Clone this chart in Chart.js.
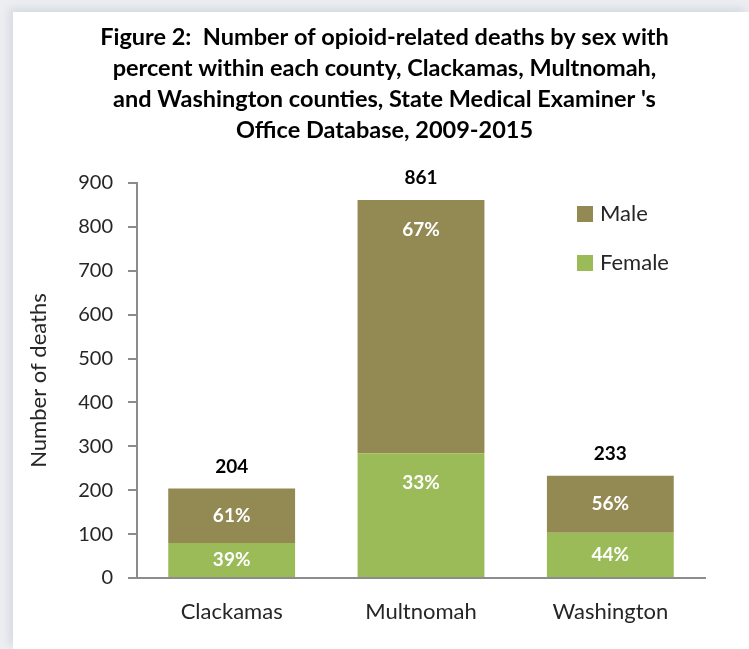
<!DOCTYPE html>
<html>
<head>
<meta charset="utf-8">
<script src="https://cdn.jsdelivr.net/npm/chart.js@4.4.0/dist/chart.umd.min.js"></script>
<style>
  html, body { margin: 0; padding: 0; }
  body { width: 749px; height: 649px; overflow: hidden; position: relative; background: #eceef2; }
  #panel { position: absolute; left: 13px; top: 12px; right: 0; bottom: 0; background: #fff;
           box-shadow: -4px -4px 8px rgba(205, 210, 218, 0.7); }
  #wrap { position: absolute; left: 0; top: 0; width: 749px; height: 649px; }
</style>
</head>
<body>
<div id="panel"></div>
<div id="wrap"><canvas id="chart"></canvas></div>
<script>
// data
const counties = ['Clackamas', 'Multnomah', 'Washington'];
const femaleDeaths = [80, 284, 103];
const maleDeaths = [124, 577, 130];
const yMin = 0, yMax = 900, yStep = 100;
const titleLines = [
  'Figure 2:  Number of opioid-related deaths by sex with',
  'percent within each county, Clackamas, Multnomah,',
  "and Washington counties, State Medical Examiner 's",
  'Office Database, 2009-2015'
];

const FONT = 'Lato';
const textColor = '#262626';
const axisColor = '#8c8c8c';

const totals = counties.map((c, i) => femaleDeaths[i] + maleDeaths[i]);

// percent inside each segment + total above each bar
const barLabels = {
  id: 'barLabels',
  afterDatasetsDraw(chart) {
    const ctx = chart.ctx;
    ctx.save();
    ctx.textAlign = 'center';
    ctx.textBaseline = 'middle';
    ctx.font = 'bold 19px ' + FONT;
    chart.data.datasets.forEach((ds, di) => {
      chart.getDatasetMeta(di).data.forEach((bar, i) => {
        const top = Math.min(bar.y, bar.base);
        const h = Math.abs(bar.base - bar.y);
        const pct = Math.round(ds.data[i] / totals[i] * 100) + '%';
        ctx.fillStyle = '#ffffff';
        ctx.fillText(pct, bar.x, top + Math.min(h / 2, 30));
      });
    });
    const last = chart.getDatasetMeta(chart.data.datasets.length - 1);
    last.data.forEach((bar, i) => {
      ctx.fillStyle = '#000000';
      ctx.fillText(totals[i], bar.x, bar.y - 22);
    });
    ctx.restore();
  }
};

// legend inside the plot, top right, male first
const innerLegend = {
  id: 'innerLegend',
  afterDraw(chart) {
    const ctx = chart.ctx;
    const area = chart.chartArea;
    const items = chart.data.datasets.slice().reverse();
    ctx.save();
    ctx.font = '22px ' + FONT;
    ctx.textBaseline = 'middle';
    ctx.textAlign = 'left';
    items.forEach((ds, k) => {
      const x = area.right - 128;
      const y = area.top + 23 + k * 49;
      ctx.fillStyle = ds.backgroundColor;
      ctx.fillRect(x, y, 16, 16);
      ctx.fillStyle = textColor;
      ctx.fillText(ds.label, x + 23, y + 8);
    });
    ctx.restore();
  }
};

new Chart(document.getElementById('chart'), {
  type: 'bar',
  data: {
    labels: counties,
    datasets: [
      { label: 'Female', data: femaleDeaths, backgroundColor: '#9bbb59' },
      { label: 'Male', data: maleDeaths, backgroundColor: '#938953' }
    ]
  },
  options: {
    responsive: true,
    maintainAspectRatio: false,
    animation: false,
    layout: { padding: { left: 20, right: 0, top: 0, bottom: 0 } },
    datasets: { bar: { categoryPercentage: 1, barPercentage: 0.67 } },
    plugins: {
      legend: { display: false },
      tooltip: { enabled: false },
      title: {
        display: true,
        text: titleLines,
        color: '#000000',
        font: { family: FONT, size: 23.5, weight: 'bold', lineHeight: 31 / 23.5 },
        padding: { top: 21.5, bottom: 37.5 }
      }
    },
    scales: {
      x: {
        stacked: true,
        grid: { display: false, drawTicks: false },
        border: { display: true, color: axisColor, width: 2 },
        ticks: { color: textColor, font: { family: FONT, size: 22 }, padding: 21 },
        afterFit(scale) { scale.height = 71; }
      },
      y: {
        stacked: true,
        min: yMin, max: yMax,
        grid: { drawOnChartArea: false, drawTicks: true, tickLength: 9, color: axisColor, lineWidth: 2 },
        border: { display: true, color: axisColor, width: 2 },
        ticks: { stepSize: yStep, color: textColor, font: { family: FONT, size: 20 }, padding: 15 },
        title: { display: true, text: 'Number of deaths', color: textColor,
                 font: { family: FONT, size: 22 }, padding: { top: 6, bottom: 0 } },
        afterFit(scale) { scale.width = 117; }
      },
      // empty right-hand gutter so the title centres on the panel
      gutter: {
        position: 'right',
        grid: { display: false, drawTicks: false },
        border: { display: false },
        ticks: { display: false },
        afterFit(scale) { scale.width = 44; }
      }
    }
  },
  plugins: [barLabels, innerLegend]
});
</script>
</body>
</html>
